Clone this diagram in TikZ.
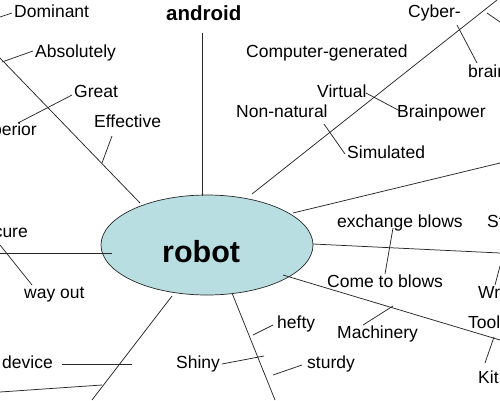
\documentclass[tikz,border=0pt]{standalone}
\usepackage{fontspec}
\setmainfont{Liberation Sans}
\usetikzlibrary{shapes.geometric}
\definecolor{hubfill}{RGB}{185,222,226}
\definecolor{ln}{RGB}{40,40,40}
\begin{document}
\begin{tikzpicture}[x=1pt,y=-1pt,
  lab/.style={font=\fontsize{17.5}{20}\selectfont, inner sep=0pt, text=black},
  big/.style={font=\fontsize{30.5}{34}\selectfont\bfseries, inner sep=0pt},
  head/.style={font=\fontsize{20.5}{24}\selectfont\bfseries, inner sep=0pt},
  hub/.style={ellipse, draw=ln, line width=0.7pt, fill=hubfill, minimum width=212pt, minimum height=100pt, inner sep=0pt},
  conn/.style={draw=ln, line width=0.75pt}]
\useasboundingbox (0,0) rectangle (500,400);
\clip (0,0) rectangle (500,400);
\fill[white] (0,0) rectangle (500,400);

% hub
\node[hub] (robot) at (207,245) {};

% endpoints
\coordinate (a1) at (202,33);  \coordinate (a2) at (202,196);
\coordinate (b1) at (0,58);    \coordinate (b2) at (140,203);
\coordinate (d1) at (0,17);    \coordinate (d2) at (12,13);
\coordinate (e1) at (2,62);    \coordinate (e2) at (33,51);
\coordinate (f1) at (18,123);  \coordinate (f2) at (72,95);
\coordinate (g1) at (102,163); \coordinate (g2) at (112,136);
\coordinate (h1) at (252,194); \coordinate (h2) at (497,0);
\coordinate (i1) at (366,93);  \coordinate (i2) at (400,111);
\coordinate (j1) at (324,124); \coordinate (j2) at (345,154);
\coordinate (k1) at (457,25);  \coordinate (k2) at (477,63);
\coordinate (l1) at (487,13);  \coordinate (l2) at (500,22);
\coordinate (m1) at (293,213); \coordinate (m2) at (500,163);
\coordinate (n1) at (313,244); \coordinate (n2) at (500,253);
\coordinate (o1) at (393,228); \coordinate (o2) at (385,274);
\coordinate (p1) at (500,266); \coordinate (p2) at (495,285);
\coordinate (q1) at (283,275); \coordinate (q2) at (500,340);
\coordinate (r1) at (393,306); \coordinate (r2) at (363,325);
\coordinate (s1) at (494,337); \coordinate (s2) at (485,363);
\coordinate (t1) at (232,293); \coordinate (t2) at (275,400);
\coordinate (u1) at (253,335); \coordinate (u2) at (273,325);
\coordinate (v1) at (222,364); \coordinate (v2) at (264,356);
\coordinate (w1) at (273,375); \coordinate (w2) at (302,365);
\coordinate (x1) at (172,296); \coordinate (x2) at (92,400);
\coordinate (y1) at (62,364);  \coordinate (y2) at (132,364);
\coordinate (z1) at (0,392);   \coordinate (z2) at (102,385);
\coordinate (aa1) at (0,253);  \coordinate (aa2) at (112,253);
\coordinate (bb1) at (0,245);  \coordinate (bb2) at (32,285);

\foreach \s/\e in {a1/a2,b1/b2,d1/d2,e1/e2,f1/f2,g1/g2,h1/h2,i1/i2,j1/j2,k1/k2,l1/l2,m1/m2,n1/n2,o1/o2,p1/p2,q1/q2,r1/r2,s1/s2,t1/t2,u1/u2,v1/v2,w1/w2,x1/x2,y1/y2,z1/z2,aa1/aa2,bb1/bb2}
  \draw[conn] (\s) -- (\e);

% texts
\node[big, anchor=base west] (robottxt) at (162,262) {robot};
\node[head, anchor=base west] (android) at (166,20) {android};
\node[lab, anchor=base west] (dominant) at (14,17) {Dominant};
\node[lab, anchor=base west] (absolutely) at (35,57) {Absolutely};
\node[lab, anchor=base west] (great) at (74,97) {Great};
\node[lab, anchor=base east] (superior) at (37,135) {Superior};
\node[lab, anchor=base west] (effective) at (94,127) {Effective};
\node[lab, anchor=base west] (compgen) at (246,57) {Computer-generated};
\node[lab, anchor=base west] (virtual) at (317,97) {Virtual};
\node[lab, anchor=base west] (nonnat) at (236,117) {Non-natural};
\node[lab, anchor=base west] (brainpower) at (397,117) {Brainpower};
\node[lab, anchor=base west] (simulated) at (347,158) {Simulated};
\node[lab, anchor=base west] (cyber) at (408,17) {Cyber-};
\node[lab, anchor=base west] (brain) at (468,77) {brain};
\node[lab, anchor=base west] (exchange) at (337,227) {exchange blows};
\node[lab, anchor=base west] (come) at (327,287) {Come to blows};
\node[lab, anchor=base west] (st) at (487,227) {Strike};
\node[lab, anchor=base west] (wr) at (478,298) {Wrench};
\node[lab, anchor=base west] (machinery) at (337,338) {Machinery};
\node[lab, anchor=base west] (tool) at (468,328) {Tools};
\node[lab, anchor=base west] (kit) at (478,383) {Kit};
\node[lab, anchor=base west] (hefty) at (277,328) {hefty};
\node[lab, anchor=base west] (sturdy) at (307,368) {sturdy};
\node[lab, anchor=base west] (shiny) at (176,368) {Shiny};
\node[lab, anchor=base east] (device) at (53,368) {Mechanical device};
\node[lab, anchor=base west] (wayout) at (24,298) {way out};
\node[lab, anchor=base east] (cure) at (28,237) {Secure};
\node[lab, anchor=base west] (bottomtxt) at (341,414) {steadfast};
\end{tikzpicture}
\end{document}
